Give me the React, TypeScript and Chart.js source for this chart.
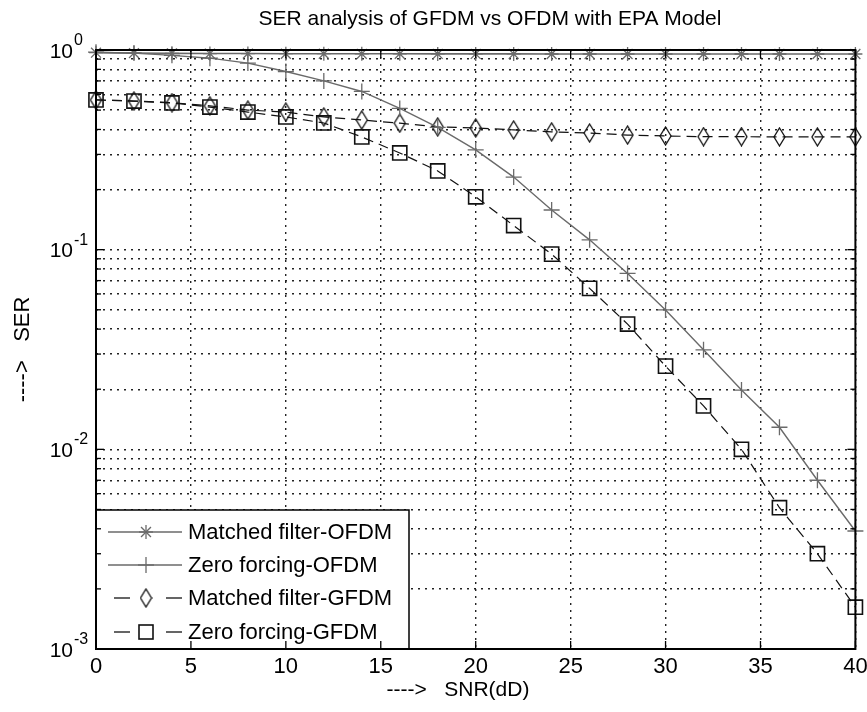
import React, { useEffect, useRef } from 'react';
import { Chart, registerables } from 'chart.js';

Chart.register(...registerables);

// ---------- data ----------
const snrDb = [0, 2, 4, 6, 8, 10, 12, 14, 16, 18, 20, 22, 24, 26, 28, 30, 32, 34, 36, 38, 40];

const matchedFilterOfdm = [0.97, 0.965, 0.962, 0.96, 0.96, 0.958, 0.958, 0.957, 0.957, 0.956, 0.956,
  0.956, 0.955, 0.955, 0.955, 0.955, 0.955, 0.955, 0.955, 0.955, 0.955];
const zeroForcingOfdm = [0.975, 0.965, 0.94, 0.91, 0.86, 0.78, 0.70, 0.62, 0.51, 0.41, 0.316,
  0.231, 0.158, 0.112, 0.076, 0.0499, 0.0315, 0.0198, 0.0129, 0.0070, 0.0039];
const matchedFilterGfdm = [0.562, 0.555, 0.545, 0.525, 0.50, 0.489, 0.462, 0.446, 0.43, 0.412, 0.407,
  0.398, 0.389, 0.384, 0.375, 0.371, 0.368, 0.368, 0.367, 0.367, 0.367];
const zeroForcingGfdm = [0.562, 0.555, 0.543, 0.518, 0.489, 0.462, 0.431, 0.367, 0.305, 0.248, 0.184,
  0.132, 0.095, 0.064, 0.0424, 0.0261, 0.0165, 0.0100, 0.0051, 0.0030, 0.00162];

const seriesLabels = ['Matched filter-OFDM', 'Zero forcing-OFDM', 'Matched filter-GFDM', 'Zero forcing-GFDM'];

const xTicks = [0, 5, 10, 15, 20, 25, 30, 35, 40];
const yDecades = [0.001, 0.01, 0.1];
const yMultipliers = [1, 2, 3, 4, 5, 6, 7, 8, 9];
const yMajorTicks = [0.001, 0.01, 0.1, 1];
const yMajorExponents = ['-3', '-2', '-1', '0'];

const titleText = 'SER analysis of GFDM vs OFDM with EPA Model';
const xTitleText = '---->   SNR(dD)';
const yTitleText = '---->   SER';

const FONT = "'Liberation Sans', Arial, Helvetica, sans-serif";
const GREY = '#6a6a6a';
const BLACK = '#111111';

export default function App() {
  const ref = useRef<HTMLCanvasElement>(null);

  useEffect(() => {
    const canvas = ref.current;
    if (!canvas) return;

    // tall diamond marker
    const diamond = document.createElement('canvas');
    diamond.width = 13;
    diamond.height = 20;
    const dctx = diamond.getContext('2d')!;
    dctx.strokeStyle = BLACK;
    dctx.lineWidth = 1.3;
    dctx.beginPath();
    dctx.moveTo(6.5, 1);
    dctx.lineTo(12, 10);
    dctx.lineTo(6.5, 19);
    dctx.lineTo(1, 10);
    dctx.closePath();
    dctx.stroke();

    const yGridValues: number[] = [];
    yDecades.forEach((d) => yMultipliers.forEach((m) => yGridValues.push(+(d * m).toPrecision(3))));
    yGridValues.push(1);

    const line = (ctx: CanvasRenderingContext2D, x1: number, y1: number, x2: number, y2: number) => {
      ctx.beginPath();
      ctx.moveTo(x1, y1);
      ctx.lineTo(x2, y2);
      ctx.stroke();
    };

    const drawMarker = (ctx: CanvasRenderingContext2D, kind: number, cx: number, cy: number) => {
      ctx.save();
      if (kind === 0) {
        ctx.strokeStyle = GREY;
        ctx.lineWidth = 1.3;
        const r = 7;
        line(ctx, cx - r, cy, cx + r, cy);
        line(ctx, cx, cy - r, cx, cy + r);
        const d = r * Math.SQRT1_2;
        line(ctx, cx - d, cy - d, cx + d, cy + d);
        line(ctx, cx - d, cy + d, cx + d, cy - d);
      } else if (kind === 1) {
        ctx.strokeStyle = GREY;
        ctx.lineWidth = 1.3;
        line(ctx, cx - 8, cy, cx + 8, cy);
        line(ctx, cx, cy - 8, cx, cy + 8);
      } else if (kind === 2) {
        ctx.drawImage(diamond, cx - 6.5, cy - 10);
      } else {
        ctx.strokeStyle = BLACK;
        ctx.lineWidth = 1.6;
        ctx.strokeRect(cx - 7, cy - 7, 14, 14);
      }
      ctx.restore();
    };

    const framePlugin = {
      id: 'frame',
      afterDraw(chart: any) {
        const { ctx, chartArea: a, scales } = chart;
        const xs = scales.x;
        const ys = scales.y;
        ctx.save();

        // legend
        const lx = a.left, ly = 510, lw = 313, lh = a.bottom - 510;
        ctx.fillStyle = '#ffffff';
        ctx.fillRect(lx, ly, lw, lh);
        ctx.strokeStyle = '#000';
        ctx.lineWidth = 1.5;
        ctx.strokeRect(lx, ly, lw, lh);
        const rows = [532, 565, 598, 632];
        seriesLabels.forEach((lab, i) => {
          const ry = rows[i];
          ctx.save();
          if (i < 2) {
            ctx.strokeStyle = GREY;
            ctx.lineWidth = 1.5;
            line(ctx, lx + 12, ry, lx + 86, ry);
          } else {
            ctx.strokeStyle = BLACK;
            ctx.lineWidth = 1.3;
            line(ctx, lx + 18, ry, lx + 34, ry);
            line(ctx, lx + 70, ry, lx + 86, ry);
          }
          ctx.restore();
          drawMarker(ctx, i, lx + 50, ry);
          ctx.fillStyle = '#000';
          ctx.font = `22px ${FONT}`;
          ctx.textAlign = 'left';
          ctx.textBaseline = 'middle';
          ctx.fillText(lab, lx + 92, ry + 1);
        });

        // inside ticks
        ctx.strokeStyle = '#000';
        ctx.lineWidth = 1.3;
        yGridValues.forEach((v) => {
          const py = ys.getPixelForValue(v);
          const len = yMajorTicks.includes(v) ? 8 : 5;
          line(ctx, a.left, py, a.left + len, py);
          line(ctx, a.right, py, a.right - len, py);
        });
        xTicks.forEach((v) => {
          const px = xs.getPixelForValue(v);
          line(ctx, px, a.bottom, px, a.bottom - 8);
          line(ctx, px, a.top, px, a.top + 8);
        });

        // box
        ctx.lineWidth = 2;
        ctx.strokeRect(a.left, a.top, a.right - a.left, a.bottom - a.top);

        // y tick labels (10 with superscript exponent)
        ctx.fillStyle = '#000';
        yMajorTicks.forEach((v, i) => {
          const py = ys.getPixelForValue(v);
          ctx.font = `21px ${FONT}`;
          ctx.textAlign = 'right';
          ctx.textBaseline = 'alphabetic';
          ctx.fillText('10', 73, py + 7.5);
          ctx.font = `16px ${FONT}`;
          ctx.textAlign = 'left';
          ctx.fillText(yMajorExponents[i], 74, py - 5);
        });

        // title and x-axis title
        ctx.font = `21px ${FONT}`;
        ctx.textAlign = 'center';
        ctx.textBaseline = 'middle';
        ctx.fillText(titleText, 490, 19);
        ctx.fillText(xTitleText, 458, 690);

        ctx.restore();
      },
    };

    const chart = new Chart(canvas, {
      type: 'line',
      data: {
        labels: snrDb,
        datasets: [
          {
            label: seriesLabels[0],
            data: snrDb.map((x, i) => ({ x, y: matchedFilterOfdm[i] })),
            borderColor: GREY,
            borderWidth: 1.6,
            pointStyle: 'star',
            pointRadius: 7,
            pointBorderColor: GREY,
            pointBorderWidth: 1.3,
            pointBackgroundColor: 'rgba(0,0,0,0)',
            clip: false,
          },
          {
            label: seriesLabels[1],
            data: snrDb.map((x, i) => ({ x, y: zeroForcingOfdm[i] })),
            borderColor: GREY,
            borderWidth: 1.4,
            pointStyle: 'cross',
            pointRadius: 8,
            pointBorderColor: GREY,
            pointBorderWidth: 1.3,
            pointBackgroundColor: 'rgba(0,0,0,0)',
            clip: false,
          },
          {
            label: seriesLabels[2],
            data: snrDb.map((x, i) => ({ x, y: matchedFilterGfdm[i] })),
            borderColor: BLACK,
            borderWidth: 1.2,
            borderDash: [10, 6],
            pointStyle: diamond,
            pointRadius: 8,
            pointBackgroundColor: 'rgba(0,0,0,0)',
            clip: false,
          },
          {
            label: seriesLabels[3],
            data: snrDb.map((x, i) => ({ x, y: zeroForcingGfdm[i] })),
            borderColor: BLACK,
            borderWidth: 1.2,
            borderDash: [10, 6],
            pointStyle: 'rect',
            pointRadius: 10,
            pointBorderColor: BLACK,
            pointBorderWidth: 1.6,
            pointBackgroundColor: 'rgba(0,0,0,0)',
            clip: false,
          },
        ],
      },
      options: {
        animation: false,
        responsive: true,
        maintainAspectRatio: false,
        layout: { padding: { left: 0, right: 9, top: 50, bottom: 0 } },
        elements: { line: { tension: 0 } },
        plugins: {
          legend: { display: false },
          tooltip: { enabled: false },
          title: { display: false },
        },
        scales: {
          x: {
            type: 'linear',
            min: 0,
            max: 40,
            afterBuildTicks: (s: any) => {
              s.ticks = xTicks.map((v) => ({ value: v }));
            },
            afterFit: (s: any) => {
              s.height = 63;
              s.paddingLeft = 0;
              s.paddingRight = 0;
            },
            ticks: {
              color: '#000',
              font: { family: FONT, size: 22 },
              padding: 5,
              maxRotation: 0,
              autoSkip: false,
            },
            grid: { color: '#222', lineWidth: 1.4, drawTicks: false },
            border: { display: false, dash: [2, 5] },
            title: { display: false },
          },
          y: {
            type: 'logarithmic',
            min: 0.001,
            max: 1,
            afterBuildTicks: (s: any) => {
              s.ticks = yGridValues.map((v) => ({ value: v, major: yMajorTicks.includes(v) }));
            },
            afterFit: (s: any) => {
              s.width = 96;
              s.paddingTop = 0;
              s.paddingBottom = 0;
            },
            ticks: { display: false },
            grid: { color: '#222', lineWidth: 1.4, drawTicks: false },
            border: { display: false, dash: [2, 5] },
            title: {
              display: true,
              text: yTitleText,
              color: '#000',
              font: { family: FONT, size: 22 },
              padding: { top: 10, bottom: 10, y: 10 },
            },
          },
        },
      },
      plugins: [framePlugin],
    });

    return () => chart.destroy();
  }, []);

  return (
    <div style={{ position: 'fixed', left: 0, top: 0, width: 867, height: 712, background: '#fff' }}>
      <canvas ref={ref} />
    </div>
  );
}
